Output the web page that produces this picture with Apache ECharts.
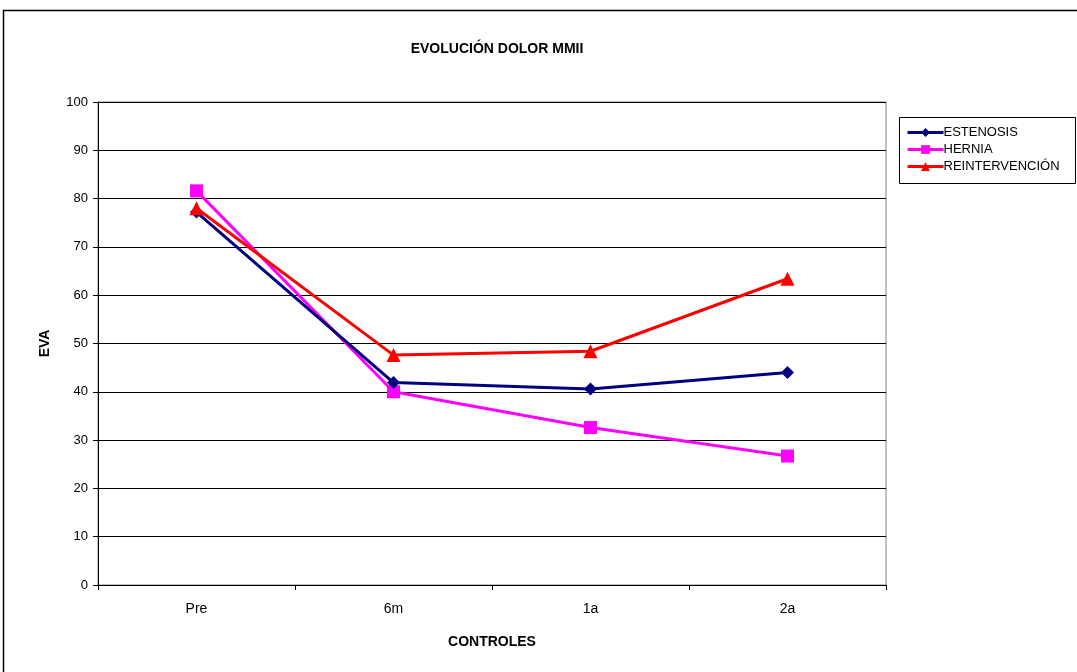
<!DOCTYPE html>
<html><head><meta charset="utf-8">
<script src="https://cdn.jsdelivr.net/npm/echarts@6/dist/echarts.min.js"></script>
<style>html,body{margin:0;padding:0;background:#fff}#c{width:1077px;height:672px}</style>
</head><body><div id="c"></div>
<script>
var categories = ['Pre', '6m', '1a', '2a'];
var estenosis = [77.2, 41.9, 40.6, 44.0];
var hernia = [81.6, 40.0, 32.6, 26.7];
var reintervencion = [78.0, 47.6, 48.4, 63.4];
var yTicks = [0, 100, 10];

var chart = echarts.init(document.getElementById('c'));
var font = 'Liberation Sans, Arial, sans-serif';
chart.setOption({
  backgroundColor: '#fff',
  animation: false,
  title: {text: 'EVOLUCIÓN DOLOR MMII', left: 492, top: 37, textAlign: 'center',
    textStyle: {fontFamily: font, fontSize: 14, fontWeight: 'bold', color: '#000'}},
  graphic: [{type: 'rect', shape: {x: 3.5, y: 10.5, width: 1090, height: 680}, style: {fill: null, stroke: '#000', lineWidth: 1.5}, z: 100},
            {type: 'rect', shape: {x: 899.5, y: 117.5, width: 176, height: 66}, style: {fill: null, stroke: '#000', lineWidth: 1}, z: 100}],
  legend: {orient: 'vertical', left: 901, top: 121, itemGap: 4, itemWidth: 36, itemHeight: 11,
    lineStyle: {width: 3},
    textStyle: {fontFamily: font, fontSize: 13, color: '#000', padding: [0, 0, 0, -5]},
    data: ['ESTENOSIS', 'HERNIA', 'REINTERVENCIÓN']},
  grid: {left: 98, top: 102, right: 191, bottom: 87, show: true, borderColor: '#808080', borderWidth: 1},
  xAxis: {type: 'category', data: categories, boundaryGap: true,
    name: 'CONTROLES', nameLocation: 'middle', nameGap: 50,
    nameTextStyle: {fontFamily: font, fontSize: 14, fontWeight: 'bold', color: '#000'},
    axisLine: {lineStyle: {color: '#000', width: 1}},
    axisTick: {show: true, length: 5, lineStyle: {color: '#000'}},
    axisLabel: {fontFamily: font, fontSize: 14, color: '#000', margin: 17}},
  yAxis: {type: 'value', min: yTicks[0], max: yTicks[1], interval: yTicks[2],
    name: 'EVA', nameLocation: 'middle', nameGap: 46,
    nameTextStyle: {fontFamily: font, fontSize: 14, fontWeight: 'bold', color: '#000'},
    axisLine: {show: true, lineStyle: {color: '#000', width: 1}},
    axisTick: {show: true, length: 5, inside: false, lineStyle: {color: '#000'}},
    axisLabel: {fontFamily: font, fontSize: 13, color: '#000', margin: 10},
    splitLine: {lineStyle: {color: '#000', width: 1}}},
  series: [
    {name: 'ESTENOSIS', type: 'line', data: estenosis, symbol: 'diamond', symbolSize: 13,
     lineStyle: {color: '#000080', width: 3}, itemStyle: {color: '#000080'}, z: 3},
    {name: 'HERNIA', type: 'line', data: hernia, symbol: 'rect', symbolSize: 13,
     lineStyle: {color: '#FF00FF', width: 3}, itemStyle: {color: '#FF00FF'}, z: 2},
    {name: 'REINTERVENCIÓN', type: 'line', data: reintervencion, symbol: 'triangle', symbolSize: 14,
     lineStyle: {color: '#FF0000', width: 3}, itemStyle: {color: '#FF0000'}, z: 4}
  ]
});
</script></body></html>
